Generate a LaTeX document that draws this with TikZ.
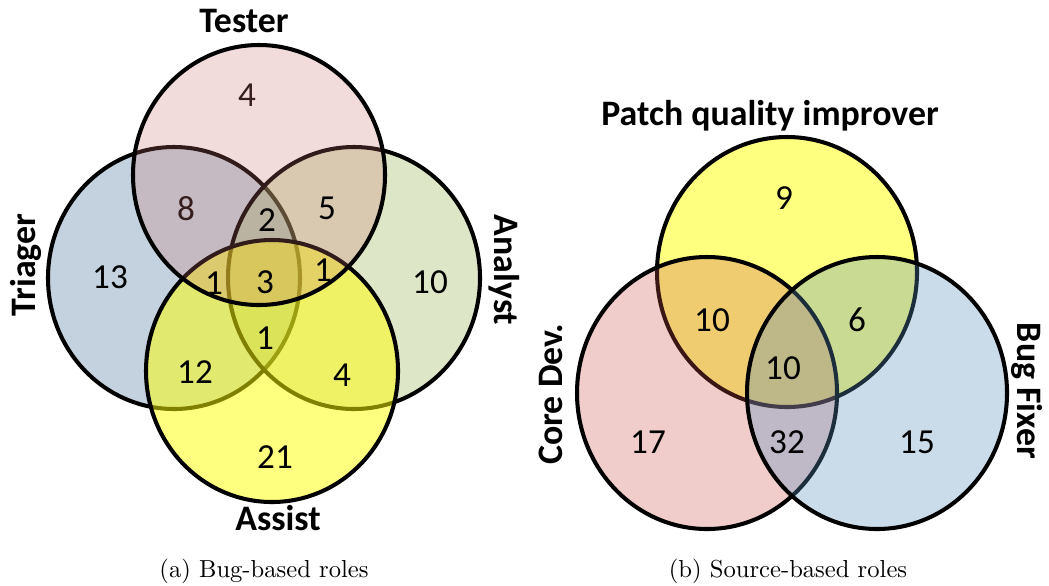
\documentclass[tikz,border=0pt]{standalone}
\usepackage{fontspec}
\newfontfamily\vennfont{Carlito}
\definecolor{testerred}{RGB}{203,115,111}
\definecolor{triagerblue}{RGB}{84,126,161}
\definecolor{analystgreen}{RGB}{161,184,98}
\definecolor{assistyellow}{RGB}{255,255,0}
\definecolor{corered}{RGB}{203,79,72}
\definecolor{fixerblue}{RGB}{89,142,189}
\definecolor{darknum}{RGB}{55,30,30}

\begin{document}
\begin{tikzpicture}[
  set/.style={draw=black, line width=1.15pt},
  tester/.style={set, fill=testerred, fill opacity=0.25},
  triager/.style={set, fill=triagerblue, fill opacity=0.35},
  analyst/.style={set, fill=analystgreen, fill opacity=0.35},
  assist/.style={set, fill=assistyellow, fill opacity=0.5},
  patch/.style={set, fill=assistyellow, fill opacity=0.5},
  core/.style={set, fill=corered, fill opacity=0.29},
  fixer/.style={set, fill=fixerblue, fill opacity=0.32},
  count/.style={font=\vennfont\fontsize{10}{12}\selectfont},
  role/.style={font=\vennfont\bfseries\fontsize{10.2}{12}\selectfont, anchor=base},
  caption/.style={font=\fontsize{10}{12}\selectfont, anchor=base, scale=0.7, transform shape}]

  \useasboundingbox (0,0) rectangle (10.49,5.85);

  % (a) bug-based roles
  \draw[triager] (1.74,3.07) ellipse [x radius=1.26, y radius=1.31];
  \draw[analyst] (3.54,3.07) ellipse [x radius=1.26, y radius=1.31];
  \draw[assist]  (2.72,2.14) ellipse [x radius=1.26, y radius=1.31];
  \draw[tester]  (2.59,4.10) ellipse [x radius=1.26, y radius=1.30];

  \node[role] (ntester) at (2.44,5.53) {Tester};
  \node[role, rotate=90] (ntriager) at (0.35,3.20) {Triager};
  \node[role, rotate=-90] (nanalyst) at (4.94,3.15) {Analyst};
  \node[role] (nassist) at (2.78,0.55) {Assist};

  \node[count, text=darknum] (a4)  at (2.47,4.90) {4};
  \node[count, text=darknum] (a8)  at (1.86,3.76) {8};
  \node[count] (a2)  at (2.67,3.65) {2};
  \node[count] (a5)  at (3.27,3.77) {5};
  \node[count] (a13) at (1.10,3.08) {13};
  \node[count] (a1l) at (2.14,3.02) {1};
  \node[count] (a3)  at (2.65,3.03) {3};
  \node[count] (a1r) at (3.23,3.15) {1};
  \node[count] (a10) at (4.30,3.03) {10};
  \node[count] (a1b) at (2.65,2.47) {1};
  \node[count] (a12) at (1.95,2.13) {12};
  \node[count] (a4b) at (3.42,2.10) {4};
  \node[count] (a21) at (2.75,1.28) {21};

  \node[caption] (capa) at (2.64,0.08) {(a) Bug-based roles};

  % (b) source-based roles
  \draw[patch] (7.87,3.13) ellipse [x radius=1.30, y radius=1.35];
  \draw[core]  (7.07,1.92) ellipse [x radius=1.30, y radius=1.36];
  \draw[fixer] (8.77,1.92) ellipse [x radius=1.30, y radius=1.36];

  \node[role] (npatch) at (7.70,4.60) {Patch quality improver};
  \node[role, rotate=90] (ncore) at (5.62,1.91) {Core Dev.};
  \node[role, rotate=-90] (nfixer) at (10.17,1.94) {Bug Fixer};

  \node[count] (b9)   at (7.84,3.87) {9};
  \node[count] (b10l) at (7.12,2.65) {10};
  \node[count] (b6)   at (8.57,2.65) {6};
  \node[count] (b10c) at (7.83,2.17) {10};
  \node[count] (b17)  at (6.48,1.43) {17};
  \node[count] (b32)  at (7.87,1.43) {32};
  \node[count] (b15)  at (9.17,1.43) {15};

  \node[caption] (capb) at (7.88,0.08) {(b) Source-based roles};
\end{tikzpicture}
\end{document}
